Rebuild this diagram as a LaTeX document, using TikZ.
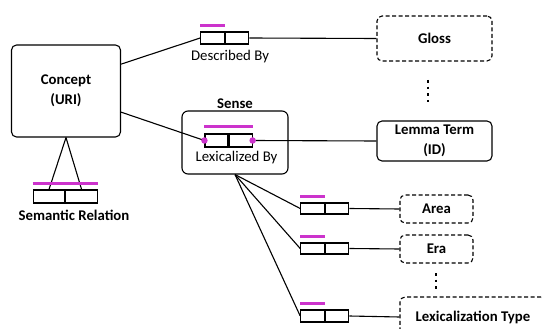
\documentclass[tikz,border=0pt]{standalone}
\usepackage{fontspec}
\setmainfont{Carlito}
\usetikzlibrary{positioning}
\definecolor{relpink}{RGB}{204,51,204}
\tikzset{entity/.style={draw, rounded corners=5pt, line width=1.1pt, align=center,
        font=\fontsize{14.8}{20.5}\selectfont\bfseries},
optional/.style={entity, dash pattern=on 4pt off 2.5pt},
cell/.style={draw, line width=1.1pt, minimum width=23.5pt, minimum height=12pt, inner sep=0pt},
bar/.style={relpink, line width=2.8pt},
enddot/.style={circle, fill=relpink, inner sep=0pt, minimum size=6.5pt},
rolelabel/.style={font=\fontsize{14.8}{18}\selectfont},
vdotline/.style={line width=2.6pt, dash pattern=on 2.6pt off 4pt}
}

\begin{document}
\begin{tikzpicture}[x=1pt, y=-1pt, line width=1.1pt]
       \useasboundingbox (0,0) rectangle (542,329);
       \clip (0,0) rectangle (542,329);

       % entities
       \node[entity, minimum width=109pt, minimum height=92pt] (concept) at (66,91) {Concept\\(URI)};
       \node[optional, minimum width=115pt, minimum height=45pt] (gloss) at (434.5,38.5) {Gloss};
       \node[entity, minimum width=115pt, minimum height=40pt] (lemma) at (434.5,141) {Lemma Term\\(ID)};
       \node[optional, minimum width=73pt, minimum height=28pt] (area) at (436.5,209) {Area};
       \node[optional, minimum width=73pt, minimum height=28pt] (era) at (436.5,249) {Era};
       \node[optional, minimum width=146pt, minimum height=40pt] (lextype) at (473,317) {Lexicalization Type};
       \node[draw, rounded corners=6pt, minimum width=106pt, minimum height=63pt] (sense) at (235,142.5) {};
       \node[entity, draw=none, inner sep=1pt, above=0pt of sense] (sensename) {Sense};

       % relation cells
       \node[cell, minimum width=31.5pt, minimum height=13pt] (sr_l) at (49,196.5) {};
       \node[cell, minimum width=31.5pt, minimum height=13pt, right=0pt of sr_l] (sr_r) {};
       \node[entity, draw=none] (srname) at (74,215) {Semantic Relation};

       \node[cell] (db_l) at (212.5,38) {};
       \node[cell, right=0pt of db_l] (db_r) {};
       \node[rolelabel] (dbname) at (230,57) {Described By};

       \node[cell, minimum width=23pt, minimum height=13pt] (lx_l) at (216.5,140.5) {};
       \node[cell, minimum width=23pt, minimum height=13pt, right=0pt of lx_l] (lx_r) {};
       \node[rolelabel] (lxname) at (236.5,158) {Lexicalized By};

       \node[cell, minimum height=11pt] (ar_l) at (312.5,208.5) {};
       \node[cell, minimum height=11pt, right=0pt of ar_l] (ar_r) {};
       \node[cell, minimum height=11pt] (er_l) at (312.5,248.5) {};
       \node[cell, minimum height=11pt, right=0pt of er_l] (er_r) {};
       \node[cell] (lt_l) at (312.5,316) {};
       \node[cell, right=0pt of lt_l] (lt_r) {};

       % connectors
       \path (concept.26) edge (db_l.west)
             (db_r.east) edge (gloss.west)
             (concept.-21) edge (lx_l.west)
             (lx_r.east) edge (lemma.west)
             (concept.south) edge (sr_l.north)
             (concept.south) edge (sr_r.north)
             (sense.south) edge (ar_l.west)
             (sense.south) edge (er_l.west)
             (sense.south) edge (lt_l.west)
             (ar_r.east) edge (area.west)
             (er_r.east) edge (era.west)
             (lt_r.east) edge (lextype.west);

       % cardinality bars
       \draw[bar] ([yshift=6pt]sr_l.north west) -- ([yshift=6pt]sr_r.north east);
       \draw[bar] ([yshift=6pt]db_l.north west) -- ([yshift=6pt]db_l.north east);
       \draw[bar] ([yshift=7pt]lx_l.north west) -- ([yshift=7pt]lx_r.north east);
       \draw[bar] ([yshift=6pt]ar_l.north west) -- ([yshift=6pt]ar_l.north east);
       \draw[bar] ([yshift=6pt]er_l.north west) -- ([yshift=6pt]er_l.north east);
       \draw[bar] ([yshift=6pt]lt_l.north west) -- ([yshift=6pt]lt_l.north east);
       \node[enddot] (lx_dl) at (lx_l.west) {};
       \node[enddot] (lx_dr) at (lx_r.east) {};

       % more properties
       \draw[vdotline] (428,80) -- (428,105);
       \draw[vdotline] (436,273) -- (436,289);
\end{tikzpicture}
\end{document}
